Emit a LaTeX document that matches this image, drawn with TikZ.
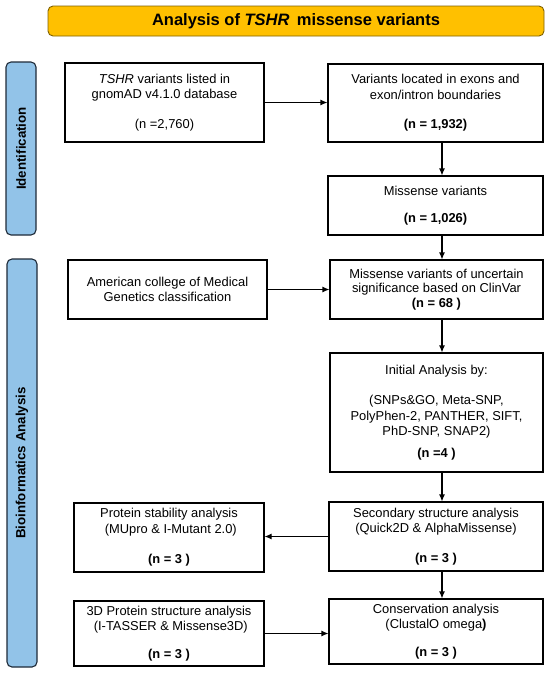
\documentclass[tikz,border=0pt]{standalone}
\usepackage{fontspec}
\setmainfont{Liberation Sans}
\usetikzlibrary{arrows.meta}
\definecolor{titlefill}{HTML}{FFC000}
\definecolor{titleline}{HTML}{7F6000}
\definecolor{barfill}{HTML}{92C3E8}
\definecolor{barline}{HTML}{1E2A38}
\begin{document}
\begin{tikzpicture}[x=1pt,y=-1pt,
  box/.style={draw=black,line width=1.1pt,fill=white,inner sep=0pt,align=center,
    font=\fontsize{12.9}{15.5}\selectfont},
  sidebar/.style={draw=barline,line width=1.1pt,fill=barfill,rounded corners=5pt,
    minimum width=30pt,inner sep=0pt},
  sidetext/.style={rotate=90,font=\bfseries\fontsize{13.3}{15.5}\selectfont},
  arr/.style={line width=1.1pt,-{Latex[length=7pt,width=6pt]}}
]
\useasboundingbox (0,0) rectangle (550,673);
% title
\node[draw=titleline,line width=0.9pt,fill=titlefill,rounded corners=5pt,
  minimum width=496pt,minimum height=30pt,inner sep=0pt,
  font=\bfseries\fontsize{16.5}{19}\selectfont] (title) at (296,21)
  {Analysis of \textit{TSHR}\, missense variants};
% side bars
\node[sidebar,minimum height=173pt] (idbar) at (21,148.5) {};
\node[sidetext] (idtext) at (idbar.center) {Identification};
\node[sidebar,minimum height=408pt] (biobar) at (22,463) {};
\node[sidetext] (biotext) at (biobar.center) {Bioinformatics Analysis};
% boxes
\node[box,minimum width=199pt,minimum height=79pt] (b1) at (164.5,102.5)
  {\textit{TSHR} variants listed in\\gnomAD v4.1.0 database\\[14pt](n =2,760)};
\node[box,minimum width=215pt,minimum height=78pt] (b2) at (435.5,103)
  {Variants located in exons and\\exon/intron boundaries\\[14pt]\textbf{(n = 1,932)}};
\node[box,minimum width=215pt,minimum height=59pt] (b3) at (435.5,205.5)
  {Missense variants\\[11.5pt]\textbf{(n = 1,026)}};
\node[box,minimum width=199pt,minimum height=59pt] (acmg) at (167.5,289.5)
  {American college of Medical\\Genetics classification};
\node[box,minimum width=213pt,minimum height=59pt,
  font=\fontsize{12.9}{14.5}\selectfont] (b4) at (436.5,289.5)
  {Missense variants of uncertain\\significance based on ClinVar\\\textbf{(n = 68 )}};
\node[box,minimum width=213pt,minimum height=119pt] (b5) at (436.5,412.5)
  {Initial Analysis by:\\[15pt](SNPs\&GO, Meta-SNP,\\PolyPhen-2, PANTHER, SIFT,\\PhD-SNP, SNAP2)\\[6.5pt]\textbf{(n =4 )}};
\node[box,minimum width=214pt,minimum height=69pt] (b6) at (436,536.5)
  {Secondary structure analysis\\(Quick2D \& AlphaMissense)\\[14.5pt]\textbf{(n = 3 )}};
\node[box,minimum width=214pt,minimum height=65pt] (b7) at (436,631.5)
  {Conservation analysis\\(ClustalO omega\textbf{)}\\[12.5pt]\textbf{(n = 3 )}};
\node[box,minimum width=190pt,minimum height=69pt] (stab) at (169,537.5)
  {Protein stability analysis\\\ (MUpro \& I-Mutant 2.0)\\[15pt]\textbf{(n = 3 )}};
\node[box,minimum width=190pt,minimum height=65pt] (p3d) at (169,633.5)
  {3D Protein structure analysis\\\ (I-TASSER \& Missense3D)\\[12.5pt]\textbf{(n = 3 )}};
% connectors
\coordinate (ax) at (442,0);
\draw[arr] (b1.east) -- (b2.west |- b1.east);
\draw[arr] (b2.south -| ax) -- (b3.north -| ax);
\draw[arr] (b3.south -| ax) -- (b4.north -| ax);
\draw[arr] (acmg.east) -- (b4.west);
\draw[arr] (b4.south -| ax) -- (b5.north -| ax);
\draw[arr] (b5.south -| ax) -- (b6.north -| ax);
\draw[arr] (b6.west) -- (stab.east |- b6.west);
\draw[arr] (b6.south -| ax) -- (b7.north -| ax);
\draw[arr] (p3d.east) -- (b7.west |- p3d.east);
\end{tikzpicture}
\end{document}
